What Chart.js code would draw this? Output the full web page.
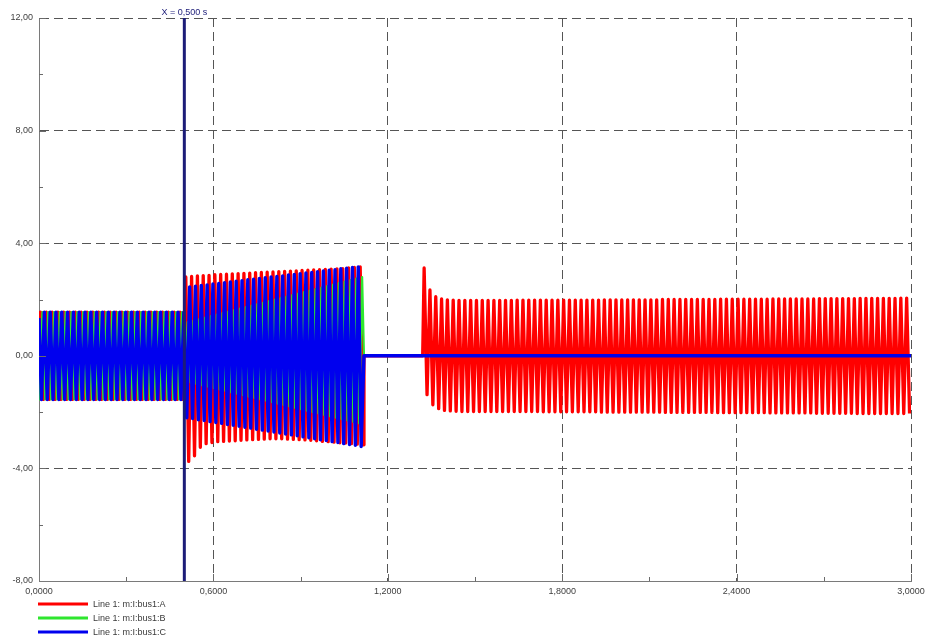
<!DOCTYPE html>
<html><head><meta charset="utf-8">
<script src="https://cdn.jsdelivr.net/npm/chart.js@4.4.1/dist/chart.umd.min.js"></script>
<style>html,body{margin:0;padding:0;background:#fff;}canvas{display:block;}</style>
</head><body>
<canvas id="c" width="925" height="637"></canvas>
<script>
// ---------------- data ----------------
const seriesLabels = ['Line 1: m:I:bus1:A', 'Line 1: m:I:bus1:B', 'Line 1: m:I:bus1:C'];
const xTickValues = [0, 0.6, 1.2, 1.8, 2.4, 3.0];
const xMinorTicks = [0.3, 0.9, 1.5, 2.1, 2.7];
const yTickValues = [-8, -4, 0, 4, 8, 12];
const yMinorTicks = [-6, -2, 2, 6, 10];
const cursorTime = 0.5;

// 50 Hz signal: one positive and one negative peak per cycle
const cycleTime = 0.02;
const startValues = [0, -1.34, 1.34];            // A, B, C at t = 0
const firstPeakTimes = [0.005, 0.00167, 0.00833]; // first extremum of A, B, C
const tripTime = 1.118;                           // all phases go to zero
const recloseTime = 1.32;                         // phase A returns
const recloseFirstPeak = 1.325;
const endTime = 3.0;

// before the event at 0.5 s (25 cycles), all phases
const preHi = [1.55,1.55,1.55,1.55,1.55,1.55,1.55,1.55,1.55,1.55,1.55,1.55,1.55,1.55,1.55,1.55,1.55,1.55,1.55,1.55,1.55,1.55,1.55,1.55,1.55];
const preLo = [-1.55,-1.55,-1.55,-1.55,-1.55,-1.55,-1.55,-1.55,-1.55,-1.55,-1.55,-1.55,-1.55,-1.55,-1.55,-1.55,-1.55,-1.55,-1.55,-1.55,-1.55,-1.55,-1.55,-1.55,-1.55];

// 0.5 s .. 1.12 s, peaks per cycle
const aHi = [2.80,2.82,2.84,2.85,2.86,2.88,2.89,2.90,2.91,2.92,2.93,2.94,2.95,2.96,2.97,2.98,2.99,3.00,3.01,3.02,3.03,3.04,3.05,3.06,3.07,3.08,3.09,3.10,3.12,3.14,3.16];
const aLo = [-3.75,-3.55,-3.25,-3.12,-3.08,-3.05,-3.04,-3.03,-3.02,-3.00,-2.99,-2.98,-2.97,-2.96,-2.95,-2.95,-2.95,-2.96,-2.97,-2.98,-2.99,-3.00,-3.02,-3.04,-3.05,-3.07,-3.09,-3.10,-3.12,-3.14,-3.16];
const bHi = [1.20,1.25,1.30,1.36,1.41,1.46,1.52,1.57,1.62,1.68,1.73,1.78,1.84,1.89,1.94,2.00,2.05,2.10,2.16,2.21,2.26,2.32,2.37,2.42,2.48,2.53,2.58,2.64,2.69,2.74,2.80];
const bLo = [-0.90,-0.95,-1.00,-1.05,-1.10,-1.15,-1.20,-1.25,-1.30,-1.35,-1.40,-1.45,-1.50,-1.55,-1.60,-1.65,-1.70,-1.75,-1.80,-1.85,-1.90,-1.95,-2.00,-2.05,-2.10,-2.15,-2.20,-2.25,-2.30,-2.35,-2.40];
const cHi = [2.45,2.47,2.50,2.52,2.55,2.57,2.60,2.62,2.65,2.67,2.70,2.72,2.75,2.77,2.80,2.82,2.84,2.87,2.89,2.92,2.94,2.96,2.99,3.01,3.04,3.06,3.09,3.11,3.14,3.16];
const cLo = [-2.20,-2.23,-2.27,-2.30,-2.34,-2.37,-2.40,-2.44,-2.47,-2.50,-2.54,-2.57,-2.61,-2.64,-2.67,-2.71,-2.74,-2.78,-2.81,-2.84,-2.88,-2.91,-2.95,-2.98,-3.01,-3.05,-3.08,-3.12,-3.15,-3.18,-3.22];

// phase A after reclosing at 1.32 s (84 cycles)
const a3Hi = [3.12,2.34,2.10,2.02,1.99,1.98,
  1.97,1.97,1.97,1.97,1.97,1.97,1.97,1.97,1.97,1.97,
  1.98,1.98,1.98,1.98,1.98,1.98,1.98,1.98,1.98,1.98,
  1.98,1.98,1.98,1.98,1.98,1.99,1.99,1.99,1.99,1.99,
  1.99,1.99,1.99,1.99,1.99,2.00,2.00,2.00,2.00,2.00,
  2.00,2.00,2.00,2.00,2.00,2.01,2.01,2.01,2.01,2.01,
  2.01,2.01,2.01,2.01,2.02,2.02,2.02,2.02,2.02,2.02,
  2.02,2.02,2.03,2.03,2.03,2.03,2.03,2.03,2.03,2.04,
  2.04,2.04,2.04,2.04,2.04,2.04,2.05,2.05];
const a3Lo = [-1.38,-1.74,-1.88,-1.94,-1.96,-1.97,
  -1.98,-1.98,-1.98,-1.98,-1.98,-1.98,-1.98,-1.98,-1.98,-1.98,
  -1.98,-1.98,-1.98,-1.98,-1.99,-1.99,-1.99,-1.99,-1.99,-1.99,
  -1.99,-1.99,-1.99,-1.99,-2.00,-2.00,-2.00,-2.00,-2.00,-2.00,
  -2.00,-2.00,-2.00,-2.00,-2.00,-2.01,-2.01,-2.01,-2.01,-2.01,
  -2.01,-2.01,-2.01,-2.01,-2.02,-2.02,-2.02,-2.02,-2.02,-2.02,
  -2.02,-2.02,-2.02,-2.03,-2.03,-2.03,-2.03,-2.03,-2.03,-2.03,
  -2.03,-2.04,-2.04,-2.04,-2.04,-2.04,-2.04,-2.04,-2.05,-2.05,
  -2.05,-2.05,-2.05,-2.05,-2.05,-2.05,-2.05,-2.05];

const seriesColors = ['#ff0000', '#2ee62e', '#0000ee'];
const seriesWidths = [3.3, 2.2, 3.4];
const cursorColor = '#1c1c78';

// ---------------- build point lists ----------------
function peaks(t0, hiFirst, hi, lo) {
  const pts = [];
  const n = Math.max(hi.length, lo.length);
  for (let i = 0; i < n; i++) {
    const t = t0 + i * cycleTime;
    const a = hiFirst ? hi[i] : lo[i];
    const b = hiFirst ? lo[i] : hi[i];
    if (a !== undefined) pts.push({x: t, y: a});
    if (b !== undefined) pts.push({x: t + cycleTime / 2, y: b});
  }
  return pts;
}
const dataA = [{x: 0, y: startValues[0]}]
  .concat(peaks(firstPeakTimes[0], true, preHi.concat(aHi), preLo.concat(aLo)))
  .concat([{x: tripTime, y: 0}, {x: recloseTime, y: 0}])
  .concat(peaks(recloseFirstPeak, true, a3Hi, a3Lo));
const dataB = [{x: 0, y: startValues[1]}]
  .concat(peaks(firstPeakTimes[1], false, preHi.concat(bHi), preLo.concat(bLo)))
  .concat([{x: tripTime, y: 0}, {x: endTime, y: 0}]);
const dataC = [{x: 0, y: startValues[2]}]
  .concat(peaks(firstPeakTimes[2], false, preHi.concat(cHi), preLo.concat(cLo)))
  .concat([{x: tripTime, y: 0}, {x: endTime, y: 0}]);

const FONT = 'Liberation Sans, Arial, sans-serif';
const fmt = (v, d) => v.toFixed(d).replace('.', ',');

const overlay = {
  id: 'overlay',
  afterDraw(chart) {
    const ctx = chart.ctx, ca = chart.chartArea;
    const xs = chart.scales.x, ys = chart.scales.y;
    ctx.save();
    // inside tick marks
    ctx.strokeStyle = '#6a6a6a'; ctx.lineWidth = 1;
    ctx.beginPath();
    xTickValues.forEach(v => { if (v === xTickValues[0]) return; const px = Math.round(xs.getPixelForValue(v)) + 0.5; ctx.moveTo(px, ca.bottom); ctx.lineTo(px, ca.bottom - 7); });
    xMinorTicks.forEach(v => { const px = Math.round(xs.getPixelForValue(v)) + 0.5; ctx.moveTo(px, ca.bottom); ctx.lineTo(px, ca.bottom - 4); });
    yTickValues.forEach(v => { if (v === yTickValues[0]) return; const py = Math.round(ys.getPixelForValue(v)) + 0.5; ctx.moveTo(ca.left, py); ctx.lineTo(ca.left + 7, py); });
    yMinorTicks.forEach(v => { const py = Math.round(ys.getPixelForValue(v)) + 0.5; ctx.moveTo(ca.left, py); ctx.lineTo(ca.left + 4, py); });
    ctx.stroke();
    // cursor label
    const cx = xs.getPixelForValue(cursorTime);
    ctx.fillStyle = cursorColor; ctx.font = '9px ' + FONT;
    ctx.textAlign = 'center'; ctx.textBaseline = 'alphabetic';
    ctx.fillText('X = ' + fmt(cursorTime, 3) + ' s', cx, ca.top - 3);
    // legend
    ctx.textAlign = 'left'; ctx.textBaseline = 'middle';
    chart.data.datasets.forEach((ds, i) => {
      if (!ds.label) return;
      const y = 604 + i * 14;
      ctx.strokeStyle = ds.borderColor; ctx.lineWidth = 3;
      ctx.beginPath(); ctx.moveTo(38, y); ctx.lineTo(88, y); ctx.stroke();
      ctx.fillStyle = '#3a3a3a';
      ctx.fillText(ds.label, 93, y + 0.5);
    });
    ctx.restore();
  }
};

const lineDs = (i, data, order) => ({
  label: seriesLabels[i], data, borderColor: seriesColors[i], backgroundColor: seriesColors[i],
  borderWidth: seriesWidths[i],
  pointRadius: 0, pointHoverRadius: 0, tension: 0, fill: false, order,
  borderJoinStyle: 'round', borderCapStyle: 'butt', parsing: false
});

new Chart(document.getElementById('c'), {
  type: 'line',
  data: {
    datasets: [
      lineDs(0, dataA, 3),
      lineDs(1, dataB, 2),
      lineDs(2, dataC, 1),
      { label: '', data: [{x: cursorTime, y: yTickValues[0]}, {x: cursorTime, y: yTickValues[yTickValues.length - 1]}],
        borderColor: cursorColor, borderWidth: 3, pointRadius: 0, order: 0, parsing: false, borderCapStyle: 'butt' }
    ]
  },
  options: {
    responsive: false, animation: false, devicePixelRatio: 1,
    layout: { padding: { top: 18, right: 14, bottom: 0, left: 0 } },
    plugins: { legend: { display: false }, tooltip: { enabled: false } },
    events: [],
    scales: {
      x: {
        type: 'linear', min: 0, max: 3,
        afterBuildTicks: s => { s.ticks = xTickValues.map(v => ({value: v})); },
        afterFit: s => { s.height = 56; s.paddingLeft = 0; s.paddingRight = 0; },
        ticks: { callback: v => fmt(v, 4), color: '#404040', font: { size: 9, family: FONT }, padding: 5, maxRotation: 0, autoSkip: false },
        grid: { color: '#555555', lineWidth: 1, drawTicks: false },
        border: { color: '#7a7a7a', width: 1, dash: [9, 5] }
      },
      y: {
        type: 'linear', min: -8, max: 12,
        afterBuildTicks: s => { s.ticks = yTickValues.map(v => ({value: v})); },
        afterFit: s => { s.width = 39; s.paddingTop = 0; s.paddingBottom = 0; },
        ticks: { callback: v => fmt(v, 2), color: '#404040', font: { size: 9, family: FONT }, padding: 6 },
        grid: { color: '#555555', lineWidth: 1, drawTicks: false },
        border: { color: '#7a7a7a', width: 1, dash: [9, 5] }
      }
    }
  },
  plugins: [overlay]
});
</script>
</body></html>
